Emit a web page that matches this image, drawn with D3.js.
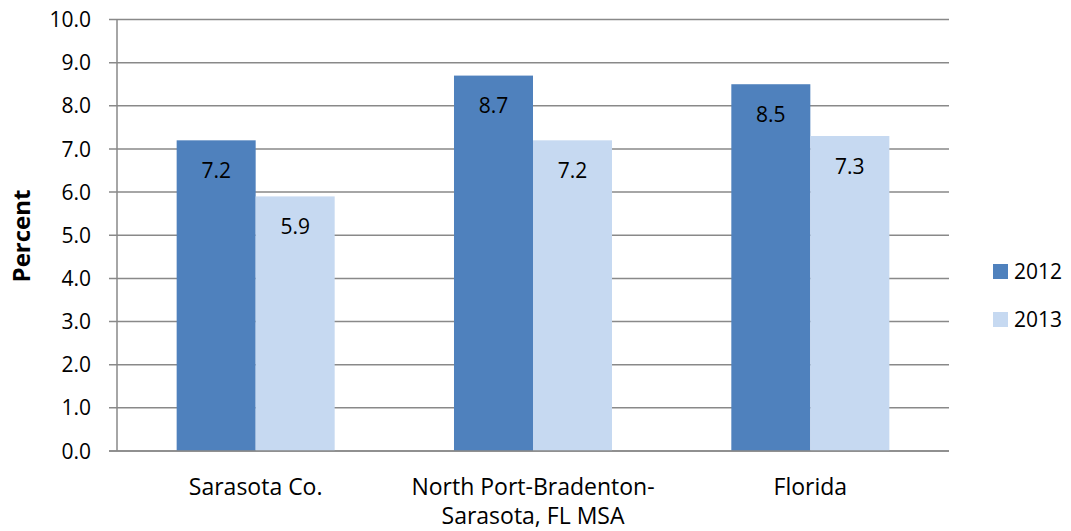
<!DOCTYPE html>
<html>
<head>
<meta charset="utf-8">
<script src="https://cdn.jsdelivr.net/npm/d3@7"></script>
<style>
  body { margin: 0; background: #fff; }
  text { font-family: "Open Sans", sans-serif; fill: #000; }
</style>
</head>
<body>
<div id="chart"></div>
<script>
// chart data
let categories = ["Sarasota Co.", "North Port-Bradenton-Sarasota, FL MSA", "Florida"]
let categoryLines = [["Sarasota Co."], ["North Port-Bradenton-", "Sarasota, FL MSA"], ["Florida"]]
let seriesNames = ["2012", "2013"]
let values2012 = [7.2, 8.7, 8.5]
let values2013 = [5.9, 7.2, 7.3]
let yTicks = [0, 1, 2, 3, 4, 5, 6, 7, 8, 9, 10]

let colors = ["#4F81BD", "#C6D9F1"]

let width = 1071
let height = 531
let plotLeft = 117, plotRight = 949, plotTop = 19.5, plotBottom = 451
let fontSize = "21px"

const svg = d3.select("#chart")
    .append("svg")
    .attr("width", width)
    .attr("height", height)

let x = d3.scaleBand()
    .domain(categories)
    .range([plotLeft, plotRight])

// Excel style gap width of 75%
let xInner = d3.scaleBand()
    .domain(seriesNames)
    .range([0, x.bandwidth()])
    .paddingInner(0)
    .paddingOuter(0.755)

let y = d3.scaleLinear()
    .domain([0, 10])
    .range([plotBottom, plotTop])

// gridlines
svg.append("g")
    .selectAll("line")
    .data(yTicks)
    .enter()
    .append("line")
    .attr("x1", plotLeft - 8)
    .attr("x2", plotRight)
    .attr("y1", d => y(d))
    .attr("y2", d => y(d))
    .attr("stroke", "#898989")
    .attr("stroke-width", 1.5)

// y axis line
svg.append("line")
    .attr("x1", plotLeft).attr("x2", plotLeft)
    .attr("y1", plotTop).attr("y2", plotBottom)
    .attr("stroke", "#898989")
    .attr("stroke-width", 1.5)

// tick labels
svg.append("g")
    .selectAll("text")
    .data(yTicks)
    .enter()
    .append("text")
    .attr("x", plotLeft - 26)
    .attr("y", d => y(d))
    .attr("dy", "0.36em")
    .attr("text-anchor", "end")
    .style("font-size", fontSize)
    .text(d => d3.format(".1f")(d))

// bars
let rows = categories.map((c, i) => ({cat: c, vals: [values2012[i], values2013[i]]}))

let groups = svg.append("g")
    .selectAll("g")
    .data(rows)
    .enter()
    .append("g")
    .attr("transform", d => `translate(${x(d.cat)},0)`)

groups.selectAll("rect")
    .data(d => d.vals.map((v, j) => ({s: seriesNames[j], v: v, j: j})))
    .enter()
    .append("rect")
    .attr("x", d => xInner(d.s))
    .attr("width", xInner.bandwidth())
    .attr("y", d => y(d.v))
    .attr("height", d => plotBottom - y(d.v))
    .attr("fill", d => colors[d.j])

groups.selectAll("text")
    .data(d => d.vals.map((v, j) => ({s: seriesNames[j], v: v})))
    .enter()
    .append("text")
    .attr("x", d => xInner(d.s) + xInner.bandwidth() / 2)
    .attr("y", d => y(d.v) + 30)
    .attr("dy", "0.36em")
    .attr("text-anchor", "middle")
    .style("font-size", fontSize)
    .text(d => d3.format(".1f")(d.v))

// redraw baseline over bars
svg.append("line")
    .attr("x1", plotLeft - 8).attr("x2", plotRight)
    .attr("y1", plotBottom).attr("y2", plotBottom)
    .attr("stroke", "#898989")
    .attr("stroke-width", 1.5)

// category labels
categories.forEach((c, i) => {
    let t = svg.append("text")
        .attr("text-anchor", "middle")
        .style("font-size", "23px")
    categoryLines[i].forEach((line, k) => {
        t.append("tspan")
            .attr("x", x(c) + x.bandwidth() / 2)
            .attr("y", 495 + k * 29)
            .text(line)
    })
})

// y axis title
svg.append("text")
    .attr("transform", `translate(30,236) rotate(-90)`)
    .attr("text-anchor", "middle")
    .style("font-size", "24px")
    .style("font-weight", "bold")
    .text("Percent")

// legend
let legend = svg.append("g")
    .attr("transform", "translate(993,264)")

legend.selectAll("rect")
    .data(seriesNames)
    .enter()
    .append("rect")
    .attr("x", 0)
    .attr("y", (d, i) => i * 48)
    .attr("width", 15)
    .attr("height", 15)
    .attr("fill", (d, i) => colors[i])

legend.selectAll("text")
    .data(seriesNames)
    .enter()
    .append("text")
    .attr("x", 21)
    .attr("y", (d, i) => i * 48 + 7.5)
    .attr("dy", "0.36em")
    .style("font-size", fontSize)
    .text(d => d)
</script>
</body>
</html>
